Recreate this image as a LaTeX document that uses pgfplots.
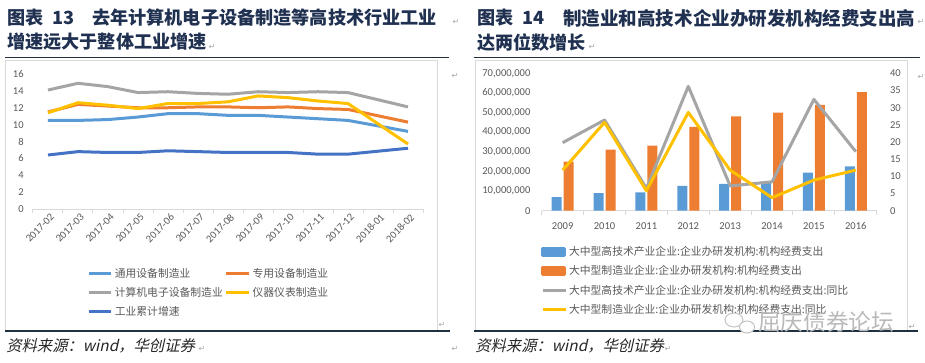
\documentclass[border=0pt]{standalone}
\usepackage{pgfplots}
\pgfplotsset{compat=1.18}
\usepackage{fontspec}
\setmainfont{Carlito}
\newfontfamily\cjk{Noto Sans CJK SC}
\newfontfamily\cjkit{Noto Sans CJK SC}[FakeSlant=0.22]
\newfontfamily\djv{DejaVu Sans}
\definecolor{cblue}{HTML}{5B9BD5}
\definecolor{corange}{HTML}{ED7D31}
\definecolor{cgray}{HTML}{A5A5A5}
\definecolor{cyellow}{HTML}{FFC000}
\definecolor{cdblue}{HTML}{4472C4}
\definecolor{txt}{HTML}{595959}
\definecolor{framec}{HTML}{D9D9D9}
\definecolor{titlec}{HTML}{1F3050}
\definecolor{rulec}{HTML}{1F3040}
\pgfplotsset{
  common/.style={
    scale only axis,
    tick label style={font=\fontsize{7.9pt}{9pt}\selectfont, text=txt},
    /pgf/number format/assume math mode=true,
    tick style={draw=framec, line width=0.75pt},
    major tick length=0pt,
    y axis line style={draw=none},
    x axis line style={draw=framec, line width=0.75pt, -},
    legend cell align=left,
  }
}
\begin{document}
\begin{tikzpicture}
\useasboundingbox (0,0) rectangle (693.75pt,271.5pt);
\begin{scope}[x=0.75pt,y=-0.75pt,yshift=271.5pt]
  % frames
  \draw[framec, line width=0.75pt] (5,60) rectangle (437,331);
  \draw[framec, line width=0.75pt] (475,60) rectangle (907,331);
  % rules
  \draw[rulec, line width=1.2pt] (5,57.5) -- (449,57.5);
  \draw[rulec, line width=1.2pt] (474,57.5) -- (920,57.5);
  \draw[rulec, line width=1.2pt] (5,331) -- (450,331);
  \draw[rulec, line width=1.2pt] (474,331) -- (918,331);
  % titles
  \begin{scope}[every node/.style={anchor=west, inner sep=0pt, text=titlec, font=\cjk\bfseries\fontsize{13.6pt}{16pt}\selectfont}]
    \node at (7,18) {图表};
    \node at (52,18) {13};
    \node at (92,18) {去年计算机电子设备制造等高技术行业工业};
    \node at (7,42) {增速远大于整体工业增速};
    \node at (477,18) {图表};
    \node at (522,18) {14};
    \node[font=\cjk\bfseries\fontsize{13.9pt}{16pt}\selectfont] at (563,18) {制造业和高技术企业办研发机构经费支出高};
    \node at (477,42) {达两位数增长};
  \end{scope}
  % sources
  \node[anchor=west, inner sep=0pt, text=black!85, font=\cjkit\fontsize{11.5pt}{13pt}\selectfont] at (6,346) {资料来源：wind，华创证券};
  \node[anchor=west, inner sep=0pt, text=black!85, font=\cjkit\fontsize{11.5pt}{13pt}\selectfont] at (475,346) {资料来源：wind，华创证券};
  % paragraph marks
  \begin{scope}[every node/.style={inner sep=0pt, text=gray!70, font=\djv\fontsize{6pt}{6pt}\selectfont}]
    \node at (456,22) {↵};
    \node at (212,47) {↵};
    \node at (592,47) {↵};
    \node at (921,22) {↵};
    \node at (455,76) {↵};
    \node at (921,77) {↵};
    \node at (442,325) {↵};
    \node at (912,327) {↵};
    \node at (455,349) {↵};
    \node at (202,349) {↵};
    \node at (668,349) {↵};
  \end{scope}
\end{scope}

% ---------- left chart ----------
\begin{axis}[common,
  at={(24.75pt,114.75pt)}, anchor=south west,
  width=292.5pt, height=101.25pt,
  xmin=-0.5, xmax=12.5, ymin=0, ymax=16,
  axis x line*=bottom, axis y line*=left,
  ytick={0,2,...,16},
  yticklabel style={xshift=-3.5pt},
  xtick={0,...,12},
  xticklabels={2017-02,2017-03,2017-04,2017-05,2017-06,2017-07,2017-08,2017-09,2017-10,2017-11,2017-12,2018-01,2018-02},
  xticklabel style={rotate=45, anchor=north east, inner sep=1pt, yshift=-2pt},
  extra x ticks={-0.5,0.5,...,12.5},
  extra x tick labels={},
  extra x tick style={major tick length=3pt, tick align=outside},
  every axis plot/.append style={line width=2.25pt, line join=round, mark=none},
  legend columns=2,
  legend style={at={(0.138,-0.415)}, anchor=north west, draw=none, fill=none, inner sep=0pt,
    font=\cjk\fontsize{8.1pt}{9pt}\selectfont, text=txt, row sep=2pt,
    nodes={inner xsep=1.5pt}},
]
\addplot[cblue] coordinates {(0,10.5)(1,10.5)(2,10.6)(3,10.9)(4,11.3)(5,11.3)(6,11.1)(7,11.1)(8,10.9)(9,10.7)(10,10.5)(12,9.2)};
\addlegendentry{通用设备制造业}
\addplot[corange] coordinates {(0,11.5)(1,12.4)(2,12.2)(3,12.0)(4,12.0)(5,12.1)(6,12.1)(7,12.0)(8,12.1)(9,11.9)(10,11.8)(12,10.3)};
\addlegendentry{专用设备制造业}
\addplot[cgray] coordinates {(0,14.1)(1,14.9)(2,14.5)(3,13.8)(4,13.9)(5,13.7)(6,13.6)(7,13.9)(8,13.8)(9,13.9)(10,13.8)(12,12.1)};
\addlegendentry{计算机电子设备制造业}
\addplot[cyellow] coordinates {(0,11.4)(1,12.6)(2,12.3)(3,11.9)(4,12.5)(5,12.5)(6,12.7)(7,13.4)(8,13.2)(9,12.8)(10,12.5)(12,7.7)};
\addlegendentry{仪器仪表制造业}
\addplot[cdblue] coordinates {(0,6.4)(1,6.8)(2,6.7)(3,6.7)(4,6.9)(5,6.8)(6,6.7)(7,6.7)(8,6.7)(9,6.5)(10,6.5)(12,7.2)};
\addlegendentry{工业累计增速}
\end{axis}

% ---------- right chart: bars ----------
\begin{axis}[common,
  at={(406.3pt,113.5pt)}, anchor=south west,
  width=251.25pt, height=103.05pt,
  xmin=-0.5, xmax=7.5, ymin=0, ymax=70000000,
  axis x line*=bottom, axis y line*=left,
  ybar=1.5pt, bar width=7.5pt,
  scaled y ticks=false,
  ytick={0,10000000,20000000,30000000,40000000,50000000,60000000,70000000},
  yticklabels={0,{10,000,000},{20,000,000},{30,000,000},{40,000,000},{50,000,000},{60,000,000},{70,000,000}},
  yticklabel style={xshift=-5pt},
  xtick={0,...,7},
  xticklabels={2009,2010,2011,2012,2013,2014,2015,2016},
  xticklabel style={yshift=-5.5pt},
  extra x ticks={-0.5,0.5,...,7.5},
  extra x tick labels={},
  extra x tick style={major tick length=3pt, tick align=outside},
]
\addplot[fill=cblue, draw=none] coordinates {(0,6900000)(1,8900000)(2,9300000)(3,12600000)(4,13600000)(5,14800000)(6,19400000)(7,22600000)};
\addplot[fill=corange, draw=none] coordinates {(0,25000000)(1,31100000)(2,33200000)(3,42700000)(4,48000000)(5,50000000)(6,53900000)(7,60400000)};
\end{axis}

% ---------- right chart: lines ----------
\begin{axis}[common,
  at={(406.3pt,113.5pt)}, anchor=south west,
  width=251.25pt, height=103.05pt,
  xmin=-0.5, xmax=7.5, ymin=0, ymax=40,
  axis y line*=right, axis x line=none,
  ytick={0,5,...,40},
  yticklabel style={xshift=6.5pt},
  every axis plot/.append style={line width=2.25pt, line join=round, mark=none},
  legend style={at={(-0.002,-0.24)}, anchor=north west, draw=none, fill=none, inner sep=0pt,
    font=\cjk\fontsize{8.1pt}{9pt}\selectfont, text=txt, row sep=2pt,
    nodes={inner xsep=1.5pt}},
]
\addlegendimage{legend image code/.code={\fill[cblue] (0pt,-2.6pt) rectangle (16.5pt,2.6pt);}}
\addlegendentry{大中型高技术产业企业:企业办研发机构:机构经费支出}
\addlegendimage{legend image code/.code={\fill[corange] (0pt,-2.6pt) rectangle (16.5pt,2.6pt);}}
\addlegendentry{大中型制造业企业:企业办研发机构:机构经费支出}
\addplot[cgray] coordinates {(0,19.8)(1,26.4)(2,6.5)(3,36.2)(4,7.2)(5,8.4)(6,32.4)(7,17.2)};
\addlegendentry{大中型高技术产业企业:企业办研发机构:机构经费支出:同比}
\addplot[cyellow] coordinates {(0,11.8)(1,25.7)(2,5.8)(3,28.6)(4,11.8)(5,3.8)(6,8.9)(7,11.8)};
\addlegendentry{大中型制造业企业:企业办研发机构:机构经费支出:同比}
\end{axis}

% watermark
\begin{scope}[x=0.75pt,y=-0.75pt,yshift=271.5pt]
  \draw[gray!45, line width=0.8pt] (734,320) ellipse (9 and 7);
  \draw[gray!45, line width=0.8pt, fill=white] (747,327) ellipse (7.5 and 6);
  \node[anchor=west, inner sep=0pt, text=gray!55, font=\cjk\fontsize{17pt}{19pt}\selectfont] at (758,322) {屈庆债券论坛};
\end{scope}
\end{tikzpicture}
\end{document}
